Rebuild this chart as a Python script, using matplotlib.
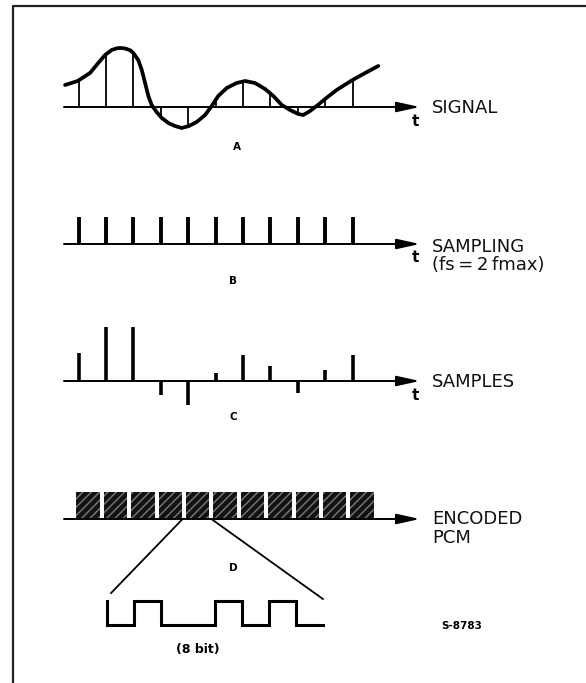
import numpy as np
import matplotlib
matplotlib.use("Agg")
from matplotlib import pyplot as plt
from matplotlib.patches import Rectangle

plt.rcParams['font.family'] = ['DejaVu Sans']

# sample instants (in sample periods) and the values
t_samples = [0, 1, 2, 3, 4, 5, 6, 7, 8, 9, 10]

# A: continuous signal (t, amplitude)
sig_t = [-0.49, -0.03, 0.42, 0.72, 0.97, 1.21, 1.4, 1.51, 1.64, 1.76, 1.9, 2.0,
         2.18, 2.31, 2.43, 2.55, 2.67, 2.85, 3.04, 3.28, 3.52, 3.77, 4.03, 4.31,
         4.62, 4.86, 5.1, 5.41, 5.77, 6.08, 6.44, 6.81, 7.11, 7.42, 7.72, 8.02,
         8.2, 8.45, 8.69, 9.0, 9.42, 10.0, 10.46, 10.94]
sig_v = [22, 26, 34, 44, 52, 57, 58.7, 59, 58.8, 58, 56.5, 54,
         47, 37, 24, 11, 2, -5, -11, -16, -19, -21, -19, -15,
         -8, 1, 11, 19, 24, 26, 24, 18, 11, 2, -3, -7,
         -8, -4, 1, 8, 17, 27, 34, 41]
sig_samples = [26, 54, 54, -11, -19, 9, 26, 12, -6, 8, 27]

# B: sampling pulses
pulse_h = [27, 27, 27, 27, 27, 27, 27, 27, 27, 27, 27]

# C: samples (PAM)
pam = [28, 54, 54, -14, -24, 8, 26, 15, -12, 11, 26]

# D: encoded words and the zoomed 8 bit word
word_h = [27, 27, 27, 27, 27, 27, 27, 27, 27, 27, 27]
zoom_word = 4
bits = [0, 1, 0, 0, 1, 0, 1, 0]

W, H = 586, 683
X0, DX = 78.5, 27.4          # pixel position of t=0 and one sample period
AX_START, AX_END = -0.53, 12.46

fig = plt.figure(figsize=(W / 100, H / 100), dpi=100)

bg = fig.add_axes([0, 0, 1, 1])
bg.set_xlim(0, W)
bg.set_ylim(H, 0)
bg.axis('off')
bg.plot([13, 13, W], [H, 6, 6], color='#222222', lw=1.6, solid_capstyle='butt')


def panel(base, top, bottom, left=40, right=440):
    ax = fig.add_axes([left / W, 1 - bottom / H, (right - left) / W, (bottom - top) / H])
    ax.set_xlim((left - X0) / DX, (right - X0) / DX)
    ax.set_ylim(-(bottom - base), base - top)
    ax.axis('off')
    ax.patch.set_alpha(0)
    return ax


def time_axis(ax):
    ax.annotate('', xy=(AX_END, 0), xytext=(AX_START, 0),
                arrowprops=dict(arrowstyle='-|>,head_length=1.0,head_width=0.22',
                                lw=1.4, color='black', shrinkA=0, shrinkB=0,
                                mutation_scale=14))


# A
axA = panel(107, 30, 160)
time_axis(axA)
axA.plot(sig_t, sig_v, color='black', lw=2.7, solid_capstyle='round', solid_joinstyle='round')
axA.vlines(t_samples, 0, sig_samples, color='black', lw=1.3)

# B
axB = panel(244, 200, 270)
time_axis(axB)
axB.vlines(t_samples, 0, pulse_h, color='black', lw=2.8)

# C
axC = panel(381, 310, 420)
time_axis(axC)
axC.vlines(t_samples, 0, pam, color='black', lw=2.6)

# D
axD = panel(519, 470, 640)
time_axis(axD)
for t, h in zip(t_samples, word_h):
    axD.add_patch(Rectangle((t - 0.08, 1), 0.86, h - 1, facecolor='#121212',
                            edgecolor='none'))
    axD.add_patch(Rectangle((t - 0.08, 1), 0.86, h - 1, facecolor='none',
                            edgecolor='#7a7a7a', hatch='////', lw=0))
zx0 = t_samples[zoom_word] - 0.2
zx1 = t_samples[zoom_word] + 0.85
axD.plot([zx0, 1.19], [0, -74], color='black', lw=1.3)
axD.plot([zx1, 8.92], [0, -80], color='black', lw=1.3)

# zoomed 8 bit word
axW = fig.add_axes([100 / W, 1 - 632 / H, 230 / W, 38 / H])
axW.set_xlim(-7 / 27, 8 + 7 / 27)
axW.set_ylim(-0.29, 1.29)
axW.axis('off')
axW.patch.set_alpha(0)
wx = [0] + [x for k in range(len(bits)) for x in (k, k + 1)]
wy = [1] + [b for b in bits for _ in (0, 1)]
axW.plot(wx, wy, color='black', lw=2.2, solid_joinstyle='miter')

# labels
lab = dict(fontsize=13, va='center', ha='left', color='#111111')
bg.text(432, 108, 'SIGNAL', **lab)
bg.text(432, 247, 'SAMPLING', **lab)
bg.text(432, 265, '(fs\u2009=\u20092\u2009fmax)', **lab)
bg.text(432, 382, 'SAMPLES', **lab)
bg.text(432, 519, 'ENCODED', **lab)
bg.text(432, 538, 'PCM', **lab)

tl = dict(fontsize=11, fontweight='bold', ha='center', va='center')
bg.text(415, 122, 't', **tl)
bg.text(415, 258, 't', **tl)
bg.text(415, 395, 't', **tl)

sl = dict(fontsize=7.5, fontweight='bold', ha='center', va='center')
bg.text(237, 147, 'A', **sl)
bg.text(233, 281, 'B', **sl)
bg.text(233, 417, 'C', **sl)
bg.text(233, 568, 'D', **sl)
bg.text(198, 650, '(8 bit)', fontsize=9, fontweight='bold', ha='center', va='center')
bg.text(462, 626, 'S-8783', fontsize=7.5, fontweight='bold', ha='center', va='center')

fig.savefig('out.png', dpi=100)
